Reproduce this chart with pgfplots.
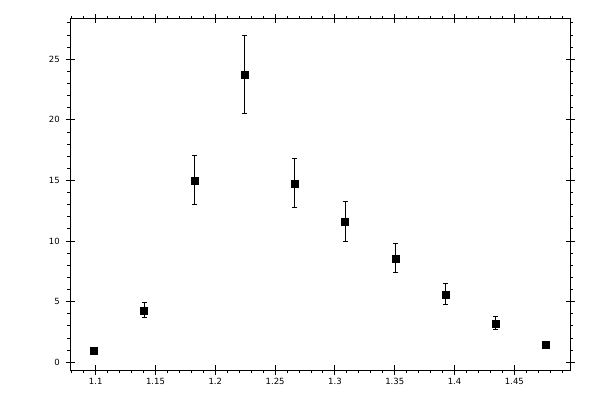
\documentclass[border=0pt]{standalone}
\usepackage{pgfplots}
\pgfplotsset{compat=1.18}
\usepackage{fontspec}
\newfontfamily\tickfont{DejaVu Sans}

\pgfplotsset{
  frame/.style={
    at={(70bp,30bp)}, anchor=south west,
    scale only axis, width=500bp, height=351bp,
    xmin=1.0785, xmax=1.4965, ymin=-0.635, ymax=28.325,
    xtick distance=0.05, ytick distance=5,
    minor x tick num=4, minor y tick num=4,
    tick style={black, line width=1bp},
    /pgf/number format/assume math mode=true,
  }
}

\begin{document}
\begin{tikzpicture}
\path[use as bounding box] (0,0) rectangle (600bp,400bp);

% outer ticks, labels, frame and data
\begin{axis}[frame,
    axis line style={black, line width=1bp},
    tick align=outside,
    major tick length=4.5bp, minor tick length=3bp,
    ticklabel style={font=\tickfont\fontsize{8.5bp}{9bp}\selectfont, inner sep=0pt},
    yticklabel style={anchor=east, xshift=-5.5bp},
    xticklabel style={anchor=north, yshift=-3.5bp},
  ]
\addplot[only marks, black, mark=square*, mark size=3.5bp,
    mark options={line width=0.5bp},
    error bars/.cd, y dir=both, y explicit,
    error bar style={line width=1bp, black},
    error mark=-,
    error mark options={rotate=90, mark size=2.5bp, line width=1bp, black}]
  table[x=x, y=y, y error=e] {
x       y      e
1.0985  0.99   0.10
1.1405  4.29   0.61
1.1825  15.02  2.02
1.2245  23.76  3.22
1.2665  14.77  2.02
1.3085  11.63  1.65
1.3505  8.58   1.20
1.3925  5.61   0.87
1.4345  3.22   0.54
1.4765  1.45   0.25
};
\end{axis}

% inner half of the major ticks
\begin{axis}[frame,
    axis line style={draw=none},
    tick align=inside,
    major tick length=4.5bp,
    minor x tick num=0, minor y tick num=0,
    xticklabels={}, yticklabels={},
  ]
\end{axis}
\end{tikzpicture}
\end{document}
